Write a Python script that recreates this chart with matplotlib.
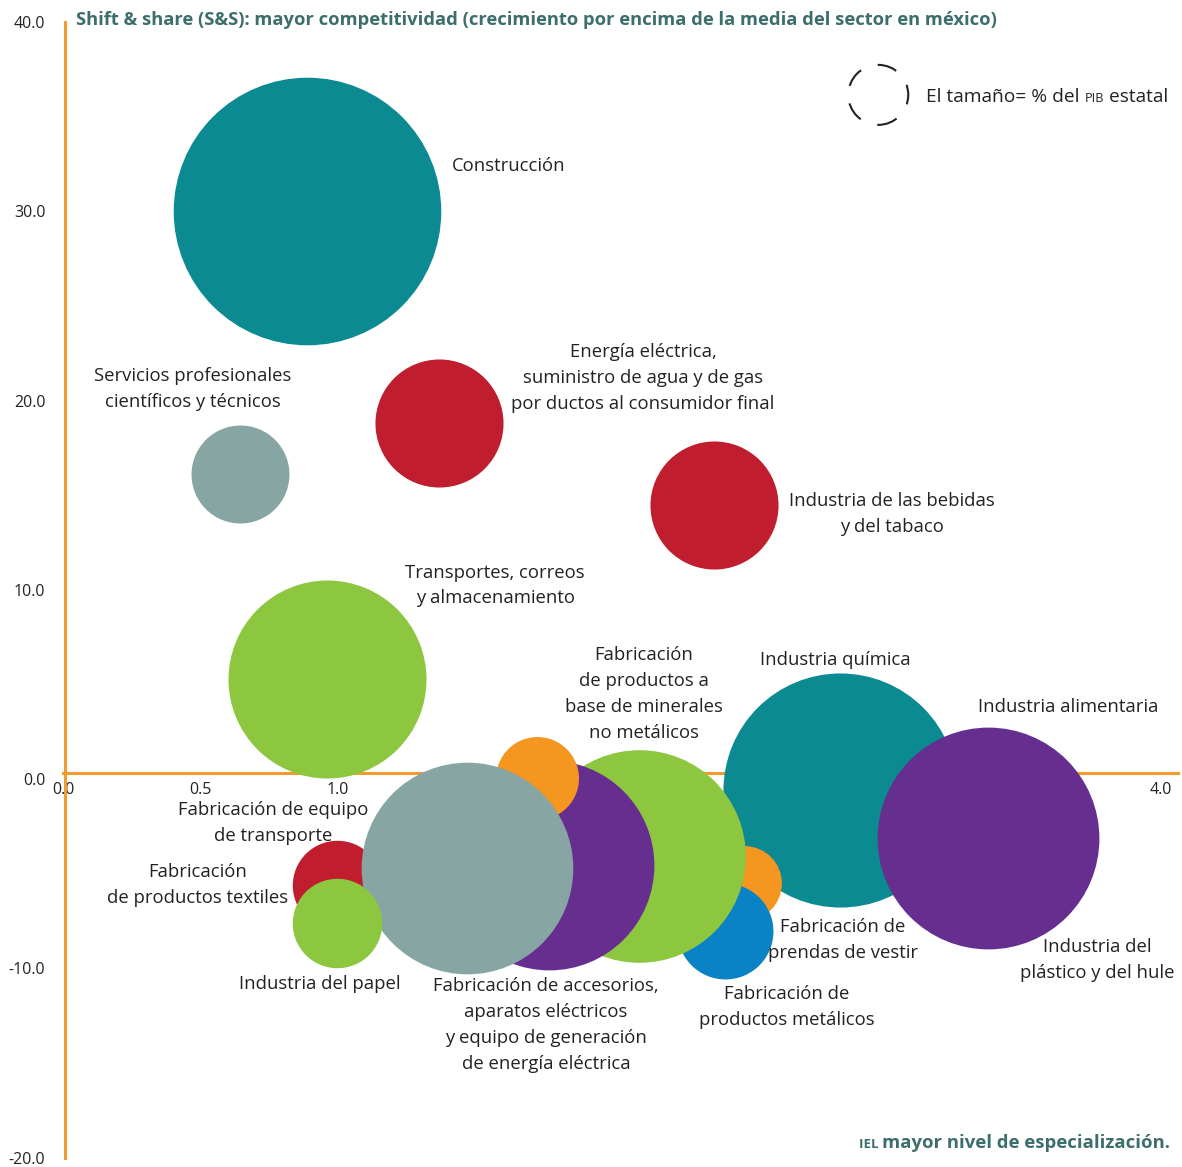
import numpy as np
import matplotlib
matplotlib.use("Agg")
import matplotlib.pyplot as plt
from matplotlib.offsetbox import TextArea, HPacker, AnnotationBbox

plt.rcParams['font.family'] = ['Open Sans', 'DejaVu Sans']

# datos: especializacion (IEL), shift & share, tamano relativo (% del PIB estatal)
sectores = ["Construcción", "Servicios profesionales", "Energía eléctrica", "Bebidas y tabaco",
            "Transportes", "Industria química", "Industria alimentaria", "Prendas de vestir",
            "Productos metálicos", "Minerales no metálicos", "Accesorios eléctricos",
            "Otros", "Equipo de transporte", "Productos textiles", "Industria del papel"]
iel = [0.89, 0.645, 1.37, 2.37, 0.96, 2.83, 3.37, 2.48, 2.41, 2.10, 1.77, 1.725, 1.47, 1.0, 1.0]
ss = [30.0, 16.1, 18.8, 14.5, 5.3, -0.6, -3.1, -5.5, -8.0, -4.05, -4.55, 0.06, -4.7, -5.6, -7.6]
tamano = [17.9, 2.4, 4.1, 4.1, 9.8, 13.7, 12.3, 1.4, 2.3, 11.3, 11.0, 1.72, 11.2, 2.0, 2.0]
colores = ["#0b8a92", "#87a5a3", "#c01e2e", "#c01e2e", "#8dc63f", "#0b8a92", "#652e8f",
           "#f49620", "#0a83c6", "#8dc63f", "#652e8f", "#f49620", "#87a5a3", "#c01e2e", "#8dc63f"]
# orden de dibujo (abajo -> arriba)
orden = [0, 1, 2, 3, 4, 5, 6, 7, 8, 9, 10, 11, 13, 12, 14]

etiquetas = [
    ("Construcción", 1.415, 32.4, "left"),
    ("Servicios profesionales\ncientíficos y técnicos", 0.474, 20.6, "center"),
    ("Energía eléctrica,\nsuministro de agua y de gas\npor ductos al consumidor final", 2.113, 21.2, "center"),
    ("Industria de las bebidas\ny del tabaco", 3.02, 14.0, "center"),
    ("Transportes, correos\ny almacenamiento", 1.574, 10.23, "center"),
    ("Fabricación\nde productos a\nbase de minerales\nno metálicos", 2.117, 4.48, "center"),
    ("Industria química", 2.812, 6.32, "center"),
    ("Industria alimentaria", 3.661, 3.83, "center"),
    ("Fabricación de equipo\nde transporte", 0.765, -2.3, "center"),
    ("Fabricación\nde productos textiles", 0.492, -5.615, "center"),
    ("Industria del papel", 0.936, -10.8, "center"),
    ("Fabricación de accesorios,\naparatos eléctricos\ny equipo de generación\nde energía eléctrica", 1.76, -12.98, "center"),
    ("Fabricación de\nprendas de vestir", 2.841, -8.52, "center"),
    ("Fabricación de\nproductos metálicos", 2.637, -12.06, "center"),
    ("Industria del\nplástico y del hule", 3.767, -9.53, "center"),
]

fig = plt.figure(figsize=(11.82, 11.67), dpi=100)
ax = fig.add_axes([63 / 1182, 1 - 1157.7 / 1167, (1178 - 63) / 1182, (1157.7 - 22) / 1167])
ax.set_xlim(0, 4.062)
ax.set_ylim(-20, 40)

# px -> puntos^2 (radio_px^2 = 1000 * tamano)
escala = (2 * 0.72) ** 2 * 1000
for i in orden:
    ax.scatter(iel[i], ss[i], s=tamano[i] * escala, color=colores[i], linewidth=0, zorder=3 + orden.index(i) * 0.01)

# leyenda del tamano
ax.scatter([2.97], [36.15], s=0.9 * escala, facecolor="none", edgecolor="#222222",
           linewidth=1.5, linestyle=(0, (9.5, 8.5)), zorder=3)
leyenda = HPacker(children=[TextArea("El tamaño= % del ", textprops=dict(fontsize=13.8, color="#222222")),
                            TextArea("PIB", textprops=dict(fontsize=9.2, color="#222222")),
                            TextArea(" estatal", textprops=dict(fontsize=13.8, color="#222222"))],
                  align="baseline", pad=0, sep=0)
ax.add_artist(AnnotationBbox(leyenda, (3.145, 36.05), box_alignment=(0, 0.5), frameon=False,
                             pad=0, xycoords="data"))

for txt, x, y, ha in etiquetas:
    ax.text(x, y, txt, ha=ha, va="center", fontsize=13.3, color="#222222", linespacing=1.57, zorder=10)

naranja = "#f39a2e"
for s in ["top", "right"]:
    ax.spines[s].set_visible(False)
ax.spines["left"].set_color(naranja)
ax.spines["left"].set_linewidth(2.2)
ax.spines["left"].set_position(("data", 0.007))
ax.spines["bottom"].set_color(naranja)
ax.spines["bottom"].set_linewidth(2.2)
ax.spines["bottom"].set_position(("data", 0.3))
ax.set_xticks([0, 0.5, 1.0, 4.0])
ax.set_xticklabels(["0.0", "0.5", "1.0", "4.0"])
ax.set_yticks(np.arange(-20, 41, 10))
ax.set_yticklabels([f"{v:.1f}" for v in np.arange(-20, 41, 10)])
ax.tick_params(axis="both", length=0, labelsize=11.5, labelcolor="#222222")
ax.tick_params(axis="y", pad=14)
ax.tick_params(axis="x", pad=6)
ax.patch.set_alpha(0)

tit = "#3b6e6c"
fig.text(76 / 1182, 1 - 20 / 1167, "Shift & share (S&S): mayor competitividad (crecimiento por encima de la media del sector en méxico)",
         ha="left", va="center", fontsize=13.25, fontweight="bold", color=tit)
pie = HPacker(children=[TextArea("IEL ", textprops=dict(fontsize=9.5, fontweight="bold", color=tit)),
                        TextArea("mayor nivel de especialización.", textprops=dict(fontsize=13.3, fontweight="bold", color=tit))],
              align="baseline", pad=0, sep=0)
fig.add_artist(AnnotationBbox(pie, (1170 / 1182, 1 - 1143 / 1167), box_alignment=(1, 0.5), frameon=False,
                              pad=0, xycoords="figure fraction"))

fig.savefig("out.png", dpi=100)
